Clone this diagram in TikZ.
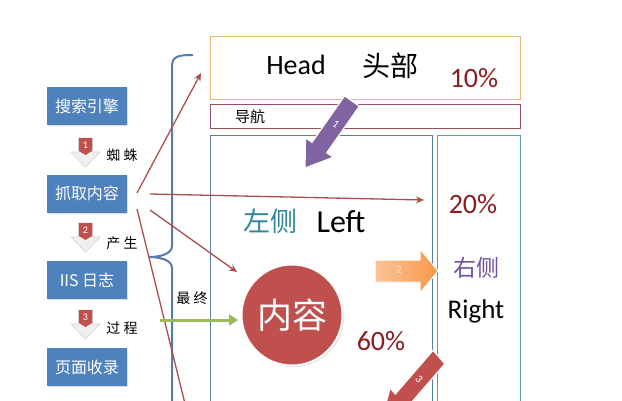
\documentclass[tikz,border=0pt]{standalone}
\usepackage{fontspec}
\setmainfont{Carlito}
\newfontfamily\cjk{Noto Sans CJK SC}
\usetikzlibrary{arrows.meta,shadows}
\definecolor{boxblue}{RGB}{79,129,189}
\definecolor{linered}{RGB}{172,78,78}
\definecolor{headc}{RGB}{232,182,118}
\definecolor{navc}{RGB}{150,80,92}
\definecolor{leftcol}{RGB}{88,128,165}
\definecolor{rightcol}{RGB}{95,155,172}
\definecolor{pctc}{RGB}{140,28,32}
\definecolor{zuoc}{RGB}{49,133,156}
\definecolor{youc}{RGB}{112,80,160}
\definecolor{circc}{RGB}{192,80,77}
\definecolor{bracec}{RGB}{85,125,172}
\definecolor{greenc}{RGB}{155,187,89}
\definecolor{purc}{RGB}{128,100,162}
\definecolor{orc}{RGB}{247,150,70}
\definecolor{arrred}{RGB}{192,80,77}
\tikzset{
  bbox/.style={fill=boxblue, text=white, minimum width=80, minimum height=38,
    inner sep=0pt, font=\cjk\fontsize{16}{16}\selectfont,
    drop shadow={opacity=0.25, shadow xshift=1.2pt, shadow yshift=-1.2pt}},
  lbl/.style={font=\cjk\fontsize{14}{14}\selectfont, inner sep=0pt},
  frame/.style={anchor=north west, inner sep=0pt, line width=1.3pt},
  pct/.style={font=\fontsize{28}{28}\selectfont, text=pctc, anchor=base, inner sep=0pt},
  thinarr/.style={draw=linered, line width=1.3pt, -{Stealth[length=8pt,width=7pt]}},
}
\newcommand\dnarrow[3]{%
  \filldraw[fill=gray!12, draw=gray!35, line width=0.6pt]
    (#1-7,#2) -- (#1+7,#2) -- (#1+7,#2+14) -- (#1+14.5,#2+14) -- (#1,#2+29)
    -- (#1-14.5,#2+14) -- (#1-7,#2+14) -- cycle;
  \fill[arrred] (#1-6.5,#2) -- (#1+6.5,#2) -- (#1+6.5,#2+13) -- (#1,#2+17) -- (#1-6.5,#2+13) -- cycle;
  \node[text=white, font=\fontsize{10}{10}\selectfont, inner sep=0pt] at (#1,#2+7) {#3};
}
\begin{document}
\begin{tikzpicture}[x=1pt,y=-1pt]
\useasboundingbox (0,0) rectangle (622,400);
\clip (0,0) rectangle (622,400);
\fill[white] (0,0) rectangle (622,400);

% page layout frames
\node[frame, draw=headc, minimum width=310, minimum height=63] (head) at (210,36) {};
\node[frame, draw=navc, minimum width=310, minimum height=24] (nav) at (210,104) {};
\node[frame, draw=leftcol, minimum width=222, minimum height=300] (leftbox) at (210,135) {};
\node[frame, draw=rightcol, minimum width=83, minimum height=300] (rightbox) at (437,135) {};

% brace
\draw[bracec, line width=2pt] (193,55) .. controls (179,55) and (172,56) .. (172,66)
  -- (172,246) .. controls (172,254) and (160,257) .. (149,257)
  .. controls (160,257) and (172,260) .. (172,268) -- (172,420);

% left flow boxes
\node[bbox] (se) at (87,106) {搜索引擎};
\node[bbox] (crawl) at (87,193.5) {抓取内容};
\node[bbox] (iis) at (87,280) {IIS 日志};
\node[bbox] (idx) at (87,367) {页面收录};

\dnarrow{85.5}{138}{1}
\dnarrow{85.5}{223}{2}
\dnarrow{85.5}{310}{3}

\node[lbl] (l1) at (122,155) {蜘 蛛};
\node[lbl] (l2) at (122,243) {产 生};
\node[lbl] (l3) at (122,328) {过 程};
\node[lbl] (l4) at (192,298) {最 终};

% texts in the page
\node[font=\fontsize{28}{28}\selectfont, anchor=base, inner sep=0pt] (headt) at (296,74) {Head};
\node[font=\cjk\fontsize{28}{28}\selectfont, inner sep=0pt] (headcn) at (390,66) {头部};
\node[pct] (p10) at (474,87) {10\%};
\node[font=\cjk\fontsize{15}{15}\selectfont, inner sep=0pt] (navt) at (250,117) {导航};
\node[font=\cjk\fontsize{27}{27}\selectfont, text=zuoc, inner sep=0pt] (zuo) at (270,221) {左侧};
\node[font=\fontsize{32}{32}\selectfont, anchor=base, inner sep=0pt] (leftt) at (341,232) {Left};
\node[circle, fill=circc, draw=white, line width=2pt, minimum size=101, inner sep=0pt,
  text=white, font=\cjk\fontsize{35}{35}\selectfont,
  drop shadow={opacity=0.25, shadow xshift=1.5pt, shadow yshift=-1.5pt}] (content) at (292,315) {内容};
\node[pct] (p60) at (381,350) {60\%};
\node[pct] (p20) at (473,213) {20\%};
\node[font=\cjk\fontsize{23}{23}\selectfont, text=youc, inner sep=0pt] (you) at (476,268) {右侧};
\node[font=\fontsize{27}{27}\selectfont, anchor=base, inner sep=0pt] (rightt) at (476,318) {Right};

% thin connectors from crawl
\coordinate (s1) at (137,193); \coordinate (t1) at (201,73);
\coordinate (s2) at (150,194); \coordinate (t2) at (424,200);
\coordinate (s3) at (150,210); \coordinate (t3) at (237,272);
\coordinate (s4) at (137,209); \coordinate (t4) at (189,420);
\draw[thinarr] (s1) -- (t1);
\draw[thinarr] (s2) -- (t2);
\draw[thinarr] (s3) -- (t3);
\draw[linered, line width=1.3pt] (s4) -- (t4);

% green arrow
\coordinate (g1) at (160,320); \coordinate (g2) at (238,320);
\draw[greenc, line width=3pt, -{Triangle[length=9pt,width=11pt]}] (g1) -- (g2);

% block arrow 1 (purple)
\filldraw[fill=purc, draw=white, line width=1.2pt]
  (344.6,95.8) -- (312.0,142.3) -- (305.5,137.7) -- (305,168) -- (333.3,157.3)
  -- (326.8,152.7) -- (359.4,106.2) -- cycle;
\node[text=white, rotate=-35, font=\fontsize{11}{11}\selectfont, inner sep=0pt] at (336,124) {1};

% block arrow 2 (orange)
\filldraw[left color=orc!55!white, right color=orc, draw=white, line width=1pt]
  (375,260) -- (420,260) -- (420,249) -- (438,271) -- (420,293) -- (420,282) -- (375,282) -- cycle;
\node[text=orc!25!white, font=\fontsize{11}{11}\selectfont, inner sep=0pt] at (399,270) {2};

% block arrow 3 (red)
\filldraw[fill=arrred, draw=white, line width=1.2pt]
  (433.1,350.3) -- (395.3,394.0) -- (390,388) -- (382.5,417.3) -- (412.4,413.5)
  -- (407.1,407.5) -- (444.9,363.8) -- cycle;
\node[text=white, rotate=-49, font=\fontsize{11}{11}\selectfont, inner sep=0pt] at (419,379) {3};
\end{tikzpicture}
\end{document}
